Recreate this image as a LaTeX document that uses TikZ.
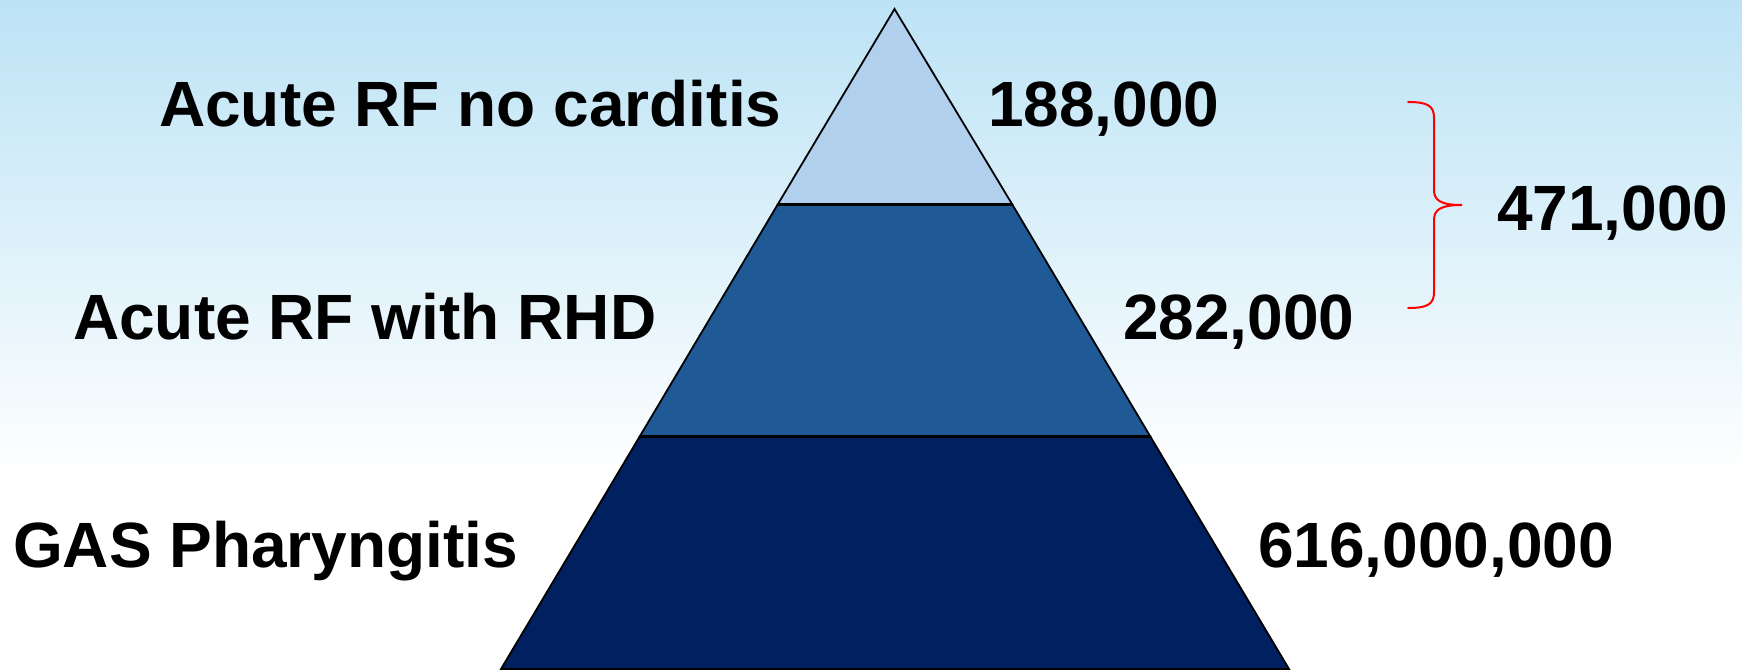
\documentclass[tikz,border=0pt]{standalone}
\usepackage{fontspec}
\setmainfont{Liberation Sans}
\begin{document}
\begin{tikzpicture}[x=1pt,y=1pt,
  lbl/.style={inner sep=0pt,anchor=base west,font=\fontsize{64}{70}\selectfont\bfseries,text=black},
  tier/.style={draw=black,line width=1.8pt,line join=miter},
  divider/.style={draw=black,line width=3pt},
  bracestyle/.style={draw=red,line width=2pt,line cap=round}]
\useasboundingbox (0,0) rectangle (1742,-669);
% background
\shade[top color={rgb,255:red,188;green,227;blue,245},bottom color=white] (0,0) rectangle (1742,-480);
\fill[white] (0,-480) rectangle (1742,-669);
% pyramid coordinates
\coordinate (A) at (894.5,-9);
\coordinate (L1) at (778,-204);
\coordinate (R1) at (1012,-204);
\coordinate (L2) at (640,-436);
\coordinate (R2) at (1150,-436);
\coordinate (BL) at (501,-669);
\coordinate (BR) at (1289,-669);
% tiers
\path[tier,fill={rgb,255:red,176;green,208;blue,238}] (A) -- (R1) -- (L1) -- cycle;
\path[tier,fill={rgb,255:red,31;green,90;blue,150}] (L1) -- (R1) -- (R2) -- (L2) -- cycle;
\path[tier,fill={rgb,255:red,0;green,32;blue,95}] (L2) -- (R2) -- (BR) -- (BL) -- cycle;
\draw[divider] (L1) -- (R1);
\draw[divider] (L2) -- (R2);
\draw[divider] (BL) -- (BR);
% labels
\node[lbl] (t1) at (159,-126) {Acute RF no carditis};
\node[lbl] (n1) at (988,-126) {188,000};
\node[lbl] (t2) at (73,-339) {Acute RF with RHD};
\node[lbl] (n2) at (1123,-339) {282,000};
\node[lbl] (t3) at (13,-567) {GAS Pharyngitis};
\node[lbl] (n3) at (1258,-567) {616,000,000};
\node[lbl] (n4) at (1497,-230) {471,000};
% brace
\coordinate (bT) at (1408,-102);
\coordinate (bM) at (1462,-205);
\coordinate (bB) at (1408,-308);
\draw[bracestyle] (bT) .. controls (1428,-102) and (1434,-106) .. (1434,-118)
  -- (1434,-190) .. controls (1434,-200) and (1440,-205) .. (bM)
  .. controls (1440,-205) and (1434,-210) .. (1434,-220)
  -- (1434,-292) .. controls (1434,-304) and (1428,-308) .. (bB);
\end{tikzpicture}
\end{document}
